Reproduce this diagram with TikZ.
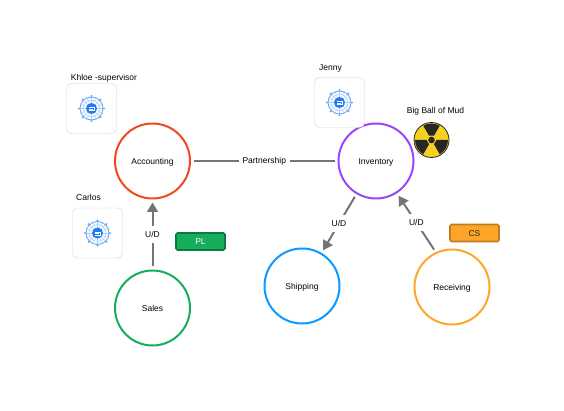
\documentclass[tikz,border=0pt]{standalone}
\usepackage{fontspec}
\setmainfont{Liberation Sans}
\usetikzlibrary{arrows.meta,positioning}
\definecolor{linkgray}{HTML}{757575}
\definecolor{hubblue}{HTML}{1E7BF2}
\definecolor{hubpale}{HTML}{A9CBF8}
\definecolor{acctred}{HTML}{F24822}
\definecolor{invpurple}{HTML}{9747FF}
\definecolor{salesgreen}{HTML}{14AE5C}
\definecolor{shipblue}{HTML}{0D99FF}
\definecolor{recvorange}{HTML}{FFA629}
\definecolor{mudyellow}{HTML}{F5D21F}
\tikzset{
  context/.style={circle,draw,line width=2pt,minimum size=75pt,inner sep=0pt,text height=7.5pt,text depth=.5pt,font=\fontsize{8.5}{10}\selectfont},
  relation/.style={draw=linkgray,line width=2pt},
  arrowrel/.style={relation,-{Triangle[length=9.5pt,width=11pt]}},
  rellabel/.style={fill=white,inner xsep=4pt,inner ysep=4.5pt,text height=7pt,text depth=1pt,font=\fontsize{8.5}{10}\selectfont},
  namebox/.style={draw=black!18,fill=white,rounded corners=5pt,minimum size=50pt,inner sep=0pt},
  nametext/.style={inner sep=0pt,font=\fontsize{8.5}{10}\selectfont},
  tagbox/.style={rounded corners=1.5pt,line width=1.6pt,minimum width=49pt,minimum height=17pt,inner sep=0pt,text height=7pt,text depth=0pt,font=\fontsize{8.5}{10}\selectfont},
  hubicon/.pic={
    \draw[hubpale,line width=.5pt] (0,0) circle (8.5pt);
    \foreach \a in {0,22.5,...,337.5}
      \draw[hubpale,line width=.4pt] (0,0) -- (\a:12pt);
    \draw[hubblue!70,line width=.8pt] (0,0) circle (11.5pt);
    \foreach \a in {0,45,...,315}
      \fill[hubblue!65] (\a:12.5pt) circle (1.2pt);
    \fill[hubblue] (0,0) circle (5.5pt);
    \draw[white,line width=.8pt] (-2.5,2) -- (2.5,2) -- (2.5,-1) -- (-2.5,-1) (-2.5,.5) -- (1,.5);
  }
}
\begin{document}
\begin{tikzpicture}[x=1pt,y=-1pt]
    \useasboundingbox (0,0) rectangle (564,411);

    % Contexts
    \node[context,draw=acctred] (accounting) at (152.5,161) {Accounting};
    \node[context,draw=invpurple] (inventory) at (376,161) {Inventory};
    \node[context,draw=salesgreen] (sales) at (152.5,308) {Sales};
    \node[context,draw=shipblue] (shipping) at (302,286) {Shipping};
    \node[context,draw=recvorange] (receiving) at (452,287) {Receiving};

    % Relations
    \draw[relation,shorten <=3pt,shorten >=3pt] (accounting) -- (inventory) node[midway,rellabel] {Partnership};
    \draw[arrowrel,shorten <=3pt,shorten >=3pt] (sales) -- (accounting) node[midway,rellabel] {U/D};
    \draw[arrowrel,shorten <=3pt,shorten >=3pt] (inventory) -- (shipping) node[midway,rellabel] {U/D};
    \draw[arrowrel,shorten <=3pt,shorten >=3pt] (receiving.115) -- (inventory.-57) node[midway,rellabel] {U/D};

    % Team members
    \node[namebox] (khloebox) at (91.5,108.5) {};
    \node[namebox] (jennybox) at (339.5,102.5) {};
    \node[namebox] (carlosbox) at (97.5,233) {};
    \pic at (khloebox) {hubicon};
    \pic at (jennybox) {hubicon};
    \pic at (carlosbox) {hubicon};
    \node[nametext,above=1pt of khloebox,xshift=12.5pt] (khloe) {Khloe -supervisor};
    \node[nametext,above=5pt of jennybox,xshift=-9pt] (jenny) {Jenny};
    \node[nametext,above=7pt of carlosbox,xshift=-9pt] (carlos) {Carlos};

    % Patterns
    \node[tagbox,draw=salesgreen!70!black,fill=salesgreen,text=white] (pl) at (200.5,241.5) {PL};
    \node[tagbox,draw=recvorange!75!black,fill=recvorange,text=black!85] (cs) at (474.5,233) {CS};

    % Big ball of mud
    \node[circle,draw=black!85,fill=mudyellow,line width=.8pt,minimum size=35pt,inner sep=0pt] (mud) at (431.5,140) {};
    \foreach \a in {90,210,330}
      \fill[black!85] (mud.center) +(\a-30:5pt) -- +(\a-30:16.5pt) -- +(\a-15:16.5pt) -- +(\a:16.5pt) -- +(\a+15:16.5pt) -- +(\a+30:16.5pt) -- +(\a+30:5pt) -- cycle;
    \fill[black!85] (mud.center) circle (3.3pt);
    \node[nametext,above=7pt of mud,xshift=4pt] (mudtext) {Big Ball of Mud};
\end{tikzpicture}
\end{document}
